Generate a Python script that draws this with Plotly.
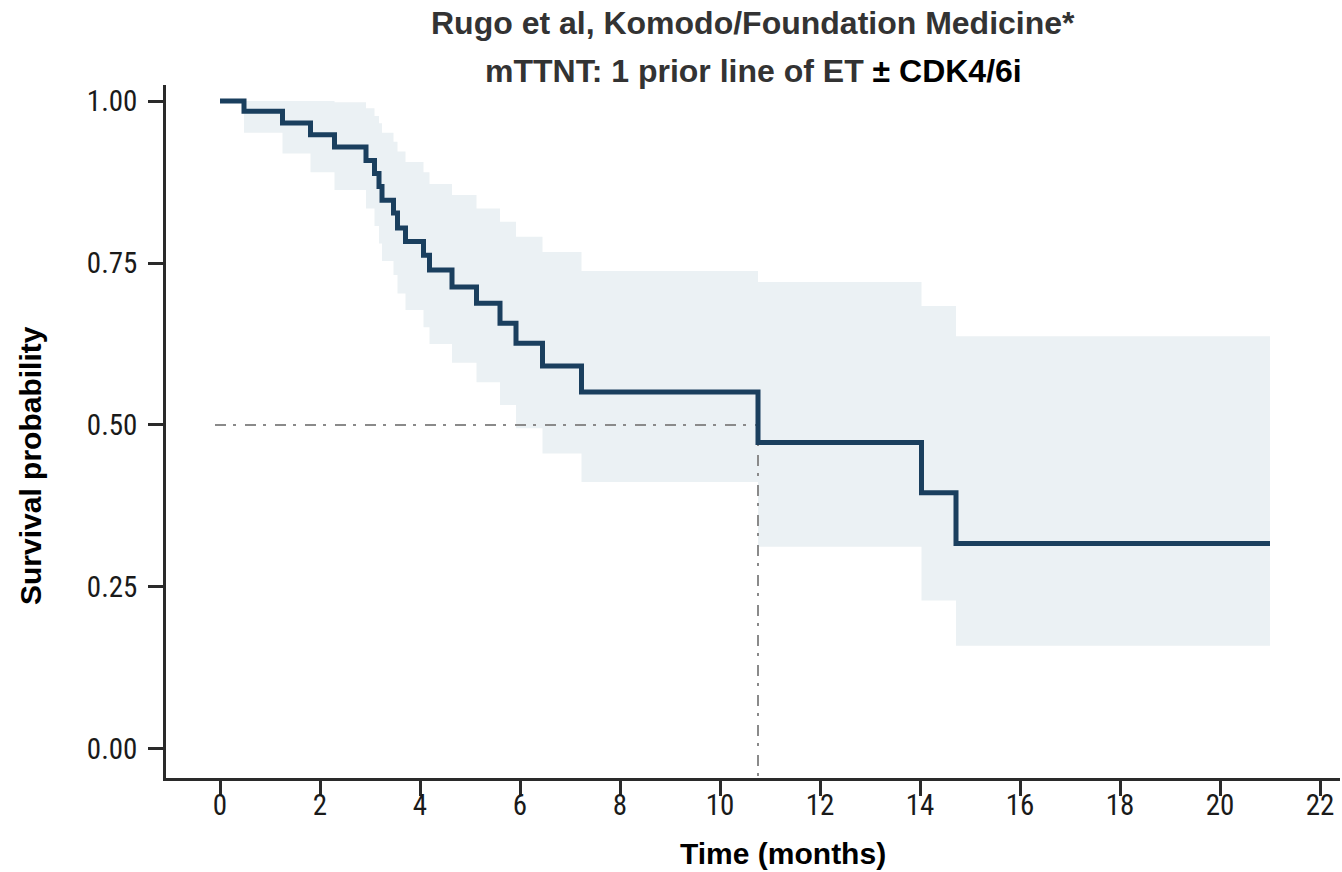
import plotly.graph_objects as go

# Kaplan-Meier estimate (step starts)
time_months = [0.0, 0.48, 1.25, 1.81, 2.29, 2.92, 3.09, 3.18, 3.24, 3.47, 3.55, 3.71,
               4.07, 4.19, 4.64, 5.13, 5.60, 5.92, 6.45, 7.23, 10.76, 14.03, 14.72]
survival = [1.0, 0.984, 0.966, 0.948, 0.929, 0.908, 0.888, 0.868, 0.847, 0.827, 0.804, 0.783,
            0.762, 0.739, 0.713, 0.688, 0.657, 0.626, 0.591, 0.551, 0.473, 0.3955, 0.317]
ci_upper = [1.0, 1.0, 1.0, 1.0, 0.998, 0.9887, 0.977, 0.9655, 0.951, 0.937, 0.922, 0.906,
            0.890, 0.872, 0.855, 0.834, 0.8137, 0.7906, 0.767, 0.7377, 0.7207, 0.6836, 0.637]
ci_lower = [1.0, 0.951, 0.919, 0.890, 0.8627, 0.834, 0.807, 0.780, 0.753, 0.7315, 0.703, 0.6775,
            0.6507, 0.625, 0.596, 0.566, 0.531, 0.4948, 0.456, 0.412, 0.312, 0.229, 0.1594]
last_time = 21.0
median_time = 10.76
median_level = 0.5

x_ticks = list(range(0, 23, 2))
y_ticks = [0.0, 0.25, 0.5, 0.75, 1.0]
y_tick_labels = ["0.00", "0.25", "0.50", "0.75", "1.00"]

title_line1 = "Rugo et al, Komodo/Foundation Medicine*"
title_line2a = "mTTNT: 1 prior line of ET"
title_line2b = "± CDK4/6i"
x_title = "Time (months)"
y_title = "Survival probability"

TICK_FONT = "Roboto Condensed, Liberation Sans, sans-serif"
TITLE_FONT = "Liberation Sans, Arial, sans-serif"

xs = time_months + [last_time]
s = survival + [survival[-1]]
up = ci_upper + [ci_upper[-1]]
lo = ci_lower + [ci_lower[-1]]

fig = go.Figure()
fig.add_trace(go.Scatter(x=xs, y=lo, mode="lines", line=dict(shape="hv", width=0),
                         hoverinfo="skip", showlegend=False))
fig.add_trace(go.Scatter(x=xs, y=up, mode="lines", line=dict(shape="hv", width=0),
                         fill="tonexty", fillcolor="#EBF1F4", hoverinfo="skip", showlegend=False))
# median reference lines
dash_pattern = "11px,7px,3px,9px"
fig.add_trace(go.Scatter(x=[-0.1, median_time], y=[median_level, median_level], mode="lines",
                         line=dict(color="#8A8A8A", width=2, dash=dash_pattern), showlegend=False))
fig.add_trace(go.Scatter(x=[median_time, median_time], y=[median_level, -0.0448], mode="lines",
                         line=dict(color="#8A8A8A", width=2, dash=dash_pattern), showlegend=False))
fig.add_trace(go.Scatter(x=xs, y=s, mode="lines", line=dict(shape="hv", width=5, color="#1A3F5E"),
                         showlegend=False))

fig.update_layout(
    width=1342, height=872,
    margin=dict(l=166, r=2, t=85, b=94),
    paper_bgcolor="white", plot_bgcolor="white",
    font=dict(family=TICK_FONT, size=20, color="#222"),
    showlegend=False,
)
axis_common = dict(showgrid=False, zeroline=False, showline=True, linecolor="#2A2A2A", linewidth=2.5,
                   ticks="outside", ticklen=15, tickwidth=2.5, tickcolor="#2A2A2A",
                   tickfont=dict(size=29, family=TICK_FONT, color="#1A1A1A"))
fig.update_xaxes(range=[-1.08, 22.4], tickvals=x_ticks, ticklabelstandoff=-16, **axis_common)
fig.update_yaxes(range=[-0.0448, 1.0247], tickvals=y_ticks, ticktext=y_tick_labels,
                 ticklabelstandoff=5, **axis_common)

# axis titles
fig.add_annotation(xref="paper", yref="paper", x=(783 - 166) / 1174, y=0, yshift=-75,
                   yanchor="middle", text=f"<b>{x_title}</b>", showarrow=False,
                   font=dict(size=30, family=TITLE_FONT, color="#000"))
fig.add_annotation(xref="paper", yref="paper", x=0, xshift=-135, y=(778 - 466) / 693,
                   xanchor="center", yanchor="middle", textangle=-90, text=f"<b>{y_title}</b>",
                   showarrow=False, font=dict(size=30, family=TITLE_FONT, color="#000"))
# chart title (two lines)
fig.add_annotation(xref="paper", yref="paper", x=0.5, y=1.0, yshift=85 - 23, yanchor="middle",
                   text=f"<b>{title_line1}</b>", showarrow=False,
                   font=dict(size=32, family=TITLE_FONT, color="#333"))
fig.add_annotation(xref="paper", yref="paper", x=0.5, y=1.0, yshift=85 - 71, yanchor="middle",
                   text=f"<b>{title_line2a} <span style='color:#000'>{title_line2b}</span></b>",
                   showarrow=False, font=dict(size=32, family=TITLE_FONT, color="#333"))

fig.write_html("out.html")
